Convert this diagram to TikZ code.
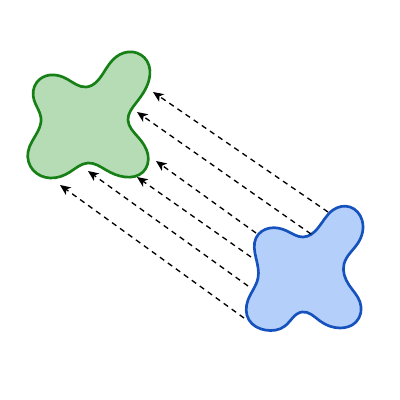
\documentclass[tikz,border=0pt]{standalone}
\usetikzlibrary{arrows.meta,hobby}
\definecolor{gfill}{RGB}{182,220,182}
\definecolor{gline}{RGB}{22,128,22}
\definecolor{bfill}{RGB}{180,208,250}
\definecolor{bline}{RGB}{22,82,190}
\tikzset{
  blobg/.style={draw=gline,fill=gfill,line width=1.9pt},
  blobb/.style={draw=bline,fill=bfill,line width=1.9pt},
  arr/.style={dash pattern=on 3.8pt off 3.2pt,line width=0.95pt,-{Stealth[length=7.5pt,width=6.5pt,inset=2pt]}}
}
\begin{document}
\begin{tikzpicture}[x=0.025cm,y=-0.025cm]
\useasboundingbox (0,0) rectangle (400,400);
% green blob
\draw[blobg] plot[closed hobby] coordinates {
(86,87)(104,72)(116,57)(133,52)(147,61)(149,80)(136,103)(128,120)(138,137)(148,155)
(143,172)(125,177)(106,170)(88,163)(70,172)(50,178)(33,170)(28,152)(38,131)(41,118)
(34,100)(37,82)(50,75)(67,79)};
% blue blob
\draw[blobb] plot[closed hobby] coordinates {
(303,237)(318,228)(333,210)(350,207)(362,220)(358,243)(344,264)(349,285)(360,302)
(356,322)(340,328)(320,321)(302,312)(285,326)(265,330)(249,320)(248,300)(258,278)
(256,258)(256,238)(270,228)(287,231)};
% arrow ends
\coordinate (t1) at (328,212); \coordinate (h1) at (153,92);
\coordinate (t2) at (311,234); \coordinate (h2) at (137,112);
\coordinate (t3) at (256,233); \coordinate (h3) at (156,161);
\coordinate (t4) at (251,257); \coordinate (h4) at (137,177);
\coordinate (t5) at (248,286); \coordinate (h5) at (88,171);
\coordinate (t6) at (244,318); \coordinate (h6) at (60,185);
\foreach \i in {1,...,6} \draw[arr] (t\i) -- (h\i);
\end{tikzpicture}
\end{document}
